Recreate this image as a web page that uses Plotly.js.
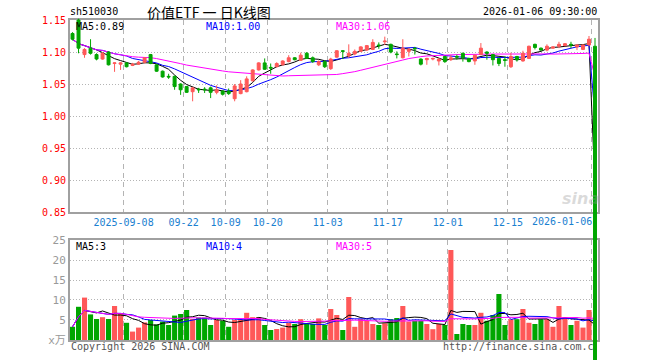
<!DOCTYPE html>
<html><head><meta charset="utf-8">
<script src="https://cdn.plot.ly/plotly-3.0.1.min.js"></script>
<style>html,body{margin:0;padding:0;background:#fff}#chart{width:660px;height:360px}</style>
</head><body><div id="chart"></div>
<script>
// ---- data ----
const dates = ['2025-08-26','2025-08-27','2025-08-28','2025-08-29','2025-09-01','2025-09-02','2025-09-03','2025-09-04','2025-09-05','2025-09-08',
'2025-09-09','2025-09-10','2025-09-11','2025-09-12','2025-09-15','2025-09-16','2025-09-17','2025-09-18','2025-09-19','2025-09-22',
'2025-09-23','2025-09-24','2025-09-25','2025-09-26','2025-09-29','2025-09-30','2025-10-09','2025-10-10','2025-10-13','2025-10-14',
'2025-10-15','2025-10-16','2025-10-17','2025-10-20','2025-10-21','2025-10-22','2025-10-23','2025-10-24','2025-10-27','2025-10-28',
'2025-10-29','2025-10-30','2025-10-31','2025-11-03','2025-11-04','2025-11-05','2025-11-06','2025-11-07','2025-11-10','2025-11-11',
'2025-11-12','2025-11-13','2025-11-14','2025-11-17','2025-11-18','2025-11-19','2025-11-20','2025-11-21','2025-11-24','2025-11-25',
'2025-11-26','2025-11-27','2025-11-28','2025-12-01','2025-12-02','2025-12-03','2025-12-04','2025-12-05','2025-12-08','2025-12-09',
'2025-12-10','2025-12-11','2025-12-12','2025-12-15','2025-12-16','2025-12-17','2025-12-18','2025-12-19','2025-12-22','2025-12-23',
'2025-12-24','2025-12-25','2025-12-26','2025-12-29','2025-12-30','2025-12-31','2026-01-05','2026-01-06'];
const open = [1.129,1.150,1.096,1.106,1.096,1.089,1.100,1.082,1.081,1.083,
1.079,1.081,1.084,1.096,1.080,1.070,1.062,1.062,1.050,1.046,
1.038,1.042,1.042,1.044,1.037,1.039,1.039,1.027,1.035,1.038,
1.055,1.072,1.083,1.076,1.077,1.080,1.085,1.091,1.087,1.098,
1.091,1.080,1.085,1.074,1.092,1.102,1.094,1.097,1.101,1.103,
1.104,1.111,1.116,1.112,1.097,1.091,1.101,1.106,1.089,1.088,
1.089,1.086,1.093,1.088,1.093,1.098,1.090,1.086,1.096,1.100,
1.096,1.090,1.088,1.077,1.093,1.086,1.090,1.112,1.106,1.103,
1.106,1.109,1.110,1.112,1.108,1.104,1.111,1.109];
const high = [1.131,1.152,1.106,1.120,1.098,1.100,1.101,1.084,1.084,1.084,
1.083,1.086,1.092,1.097,1.081,1.071,1.066,1.063,1.051,1.047,
1.045,1.044,1.045,1.046,1.048,1.040,1.043,1.050,1.056,1.062,
1.073,1.084,1.090,1.082,1.084,1.087,1.095,1.092,1.099,1.100,
1.093,1.087,1.087,1.091,1.103,1.103,1.112,1.104,1.109,1.111,
1.120,1.115,1.124,1.113,1.101,1.120,1.106,1.108,1.090,1.091,
1.091,1.090,1.094,1.095,1.096,1.099,1.091,1.096,1.114,1.101,
1.097,1.091,1.093,1.099,1.094,1.102,1.110,1.113,1.107,1.112,
1.109,1.116,1.114,1.116,1.112,1.112,1.125,1.122];
const low = [1.118,1.098,1.091,1.096,1.087,1.088,1.079,1.069,1.072,1.076,
1.078,1.080,1.082,1.081,1.069,1.060,1.058,1.041,1.033,1.036,
1.023,1.036,1.036,1.028,1.034,1.032,1.033,1.023,1.034,1.037,
1.054,1.071,1.072,1.066,1.076,1.079,1.084,1.087,1.086,1.089,
1.083,1.078,1.075,1.072,1.091,1.089,1.091,1.095,1.100,1.102,
1.103,1.105,1.111,1.098,1.090,1.090,1.093,1.096,1.079,1.080,
1.087,1.079,1.083,1.086,1.088,1.085,1.084,1.080,1.095,1.088,
1.079,1.078,1.077,1.075,1.085,1.085,1.089,1.104,1.102,1.101,
1.105,1.106,1.109,1.106,1.103,1.103,1.110,0];
const close = [1.120,1.106,1.104,1.098,1.089,1.098,1.080,1.083,1.083,1.077,
1.081,1.084,1.091,1.082,1.070,1.061,1.061,1.046,1.041,1.037,
1.044,1.041,1.041,1.037,1.041,1.034,1.035,1.047,1.050,1.058,
1.072,1.083,1.073,1.075,1.082,1.086,1.091,1.088,1.095,1.090,
1.085,1.085,1.077,1.089,1.102,1.101,1.098,1.101,1.108,1.110,
1.115,1.110,1.117,1.100,1.096,1.106,1.104,1.105,1.081,1.090,
1.090,1.089,1.085,1.091,1.092,1.091,1.085,1.095,1.106,1.098,
1.088,1.082,1.087,1.093,1.088,1.098,1.109,1.107,1.103,1.109,
1.108,1.112,1.113,1.111,1.111,1.111,1.120,0];
const volume = [3.3,8.3,10.6,6.4,5.25,5.7,5.25,8.5,6.5,4.3,
2.1,3.1,4.4,5.0,3.9,4.6,3.75,6.1,6.5,7.5,
5.25,5.6,5.6,3.75,5.0,4.8,3.3,5.0,5.0,6.8,
5.7,5.7,3.75,2.5,2.75,3.1,4.3,4.0,5.2,4.0,
4.0,5.4,3.75,7.75,6.25,2.5,10.75,3.3,5.2,4.8,
4.0,3.75,4.2,5.2,5.5,8.5,4.6,4.8,4.8,4.0,
2.7,4.0,3.75,22.5,1.5,4.0,3.75,3.75,6.8,4.8,
6.25,11.5,3.75,5.2,5.2,7.75,4.3,4.0,5.2,5.2,
3.3,8.5,5.7,3.75,4.8,3.1,7.5,0];
const tickDates = ['2025-09-08','2025-09-22','2025-10-09','2025-10-20','2025-11-03','2025-11-17','2025-12-01','2025-12-15','2026-01-06'];
const tickText  = ['2025-09-08','09-22','10-09','10-20','11-03','11-17','12-01','12-15','2026-01-06'];
const priceTicks = [0.85,0.90,0.95,1.00,1.05,1.10,1.15];
const volTicks = [0,5,10,15,20,25];
const volTickText = ['x万','5','10','15','20','25'];
const maPeriods = [5,10,30];
const priceMaLabels = ['MA5:0.89','MA10:1.00','MA30:1.06'];
const volMaLabels = ['MA5:3','MA10:4','MA30:5'];
const stockCode = 'sh510030';
const chartTitle = '价值ETF 一 日K线图';
const stamp = '2026-01-06 09:30:00';
const copyrightText = 'Copyright 2026 SINA.COM';
const siteText = 'http://finance.sina.com.c';

// ---- styles ----
const RED = '#ff5858', GREEN = '#00a600';
const MA_COLORS = ['#000000','#0000ff','#ff00ff'];
const GRID = '#b4b4b4', FRAME = '#a0a0a0';
const MONO = 'DejaVu Sans Mono, Noto Sans CJK SC, monospace';
const X_RANGE = [-0.42, 87.5];
const P_DOM = [0.4111, 0.9444], V_DOM = [0.0556, 0.3333];
const P_RANGE = [0.85, 1.15];
const k = (P_RANGE[1]-P_RANGE[0])/(P_DOM[1]-P_DOM[0]);
const Y3_RANGE = [P_RANGE[0]-P_DOM[0]*k, P_RANGE[1]+(1-P_DOM[1])*k];

const idx = dates.map((d,i)=>i);
function ma(arr,n){return arr.map((v,i)=>{const s=Math.max(0,i-n+1);let t=0;for(let j=s;j<=i;j++)t+=arr[j];return t/(i-s+1);});}
const isUp = close.map((c,i)=>c>=open[i]);
const tickPos = tickDates.map(d=>dates.indexOf(d)-0.5);
const tickLbl = tickText.map((t,i)=>i===tickText.length-1?'':t);

const traces = [];
traces.push({type:'bar',x:idx,y:volume,xaxis:'x2',yaxis:'y2',
  marker:{color:isUp.map(u=>u?RED:GREEN),line:{width:0}},hoverinfo:'skip',showlegend:false});
maPeriods.forEach((n,j)=>{
  traces.push({type:'scatter',mode:'lines',x:idx,y:ma(close,n),xaxis:'x',yaxis:'y',
    line:{color:MA_COLORS[j],width:1},hoverinfo:'skip',showlegend:false});
});
maPeriods.forEach((n,j)=>{
  traces.push({type:'scatter',mode:'lines',x:idx,y:ma(volume,n),xaxis:'x2',yaxis:'y2',
    line:{color:MA_COLORS[j],width:1},hoverinfo:'skip',showlegend:false});
});
traces.push({type:'candlestick',x:idx,open:open,high:high,low:low,close:close,xaxis:'x3',yaxis:'y3',
  increasing:{line:{color:RED,width:1},fillcolor:RED},
  decreasing:{line:{color:GREEN,width:1},fillcolor:GREEN},
  hoverinfo:'skip',showlegend:false});

const W = 528, H = 360, L = 70;
const px = x => (x-L)/W, py = y => 1-y/H;
const ann = [];
ann.push({text:stockCode,xref:'paper',yref:'paper',x:px(68),y:py(12),xanchor:'left',yanchor:'middle',showarrow:false,font:{family:MONO,size:10,color:'#000'}});
ann.push({text:chartTitle,xref:'paper',yref:'paper',x:px(209),y:py(12),xanchor:'center',yanchor:'middle',showarrow:false,font:{family:'Noto Sans CJK SC',size:14,color:'#000'}});
ann.push({text:stamp,xref:'paper',yref:'paper',x:px(599),y:py(12),xanchor:'right',yanchor:'middle',showarrow:false,font:{family:MONO,size:10,color:'#000'}});
const labX = [74,204,334];
priceMaLabels.forEach((t,j)=>ann.push({text:t,xref:'paper',yref:'paper',x:px(labX[j]),y:py(27),xanchor:'left',yanchor:'middle',showarrow:false,font:{family:MONO,size:10,color:MA_COLORS[j]}}));
volMaLabels.forEach((t,j)=>ann.push({text:t,xref:'paper',yref:'paper',x:px(labX[j]),y:py(246.5),xanchor:'left',yanchor:'middle',showarrow:false,font:{family:MONO,size:10,color:MA_COLORS[j]}}));
ann.push({text:copyrightText,xref:'paper',yref:'paper',x:px(69),y:py(346.5),xanchor:'left',yanchor:'middle',showarrow:false,font:{family:MONO,size:10,color:'#555'}});
ann.push({text:siteText,xref:'paper',yref:'paper',x:px(441),y:py(346.5),xanchor:'left',yanchor:'middle',showarrow:false,font:{family:MONO,size:10,color:'#555'}});
ann.push({text:'<i><b>sina</b></i>',xref:'paper',yref:'paper',x:px(580),y:py(198),xanchor:'center',yanchor:'middle',showarrow:false,font:{family:'DejaVu Sans',size:16,color:'rgba(150,150,150,0.35)'}});
ann.push({text:tickText[tickText.length-1],xref:'x',yref:'paper',x:tickPos[tickPos.length-1]+0.3,y:P_DOM[0],xanchor:'right',yanchor:'top',yshift:-2,showarrow:false,font:{family:MONO,size:10,color:'#1a80d0'}});

const common = {showgrid:true,gridcolor:GRID,showline:true,linecolor:FRAME,linewidth:2,mirror:true,zeroline:false,ticks:'',fixedrange:true};
const layout = {
  width:660,height:360,margin:{l:L,r:660-L-W,t:0,b:0,pad:0},
  paper_bgcolor:'#ffffff',plot_bgcolor:'rgba(0,0,0,0)',showlegend:false,
  font:{family:MONO,size:10,color:'#000'},
  boxgap:0.3,bargap:0.15,
  xaxis:Object.assign({},common,{domain:[0,1],anchor:'y',range:X_RANGE,tickmode:'array',tickvals:tickPos,ticktext:tickLbl,griddash:'5px,4px',tickfont:{family:MONO,size:10,color:'#1a80d0'},rangeslider:{visible:false}}),
  yaxis:Object.assign({},common,{domain:P_DOM,anchor:'x',range:P_RANGE,tickmode:'array',tickvals:priceTicks,tickformat:'.2f',griddash:'1px,2px',tickfont:{family:MONO,size:10,color:'#ff0000'}}),
  xaxis2:Object.assign({},common,{domain:[0,1],anchor:'y2',range:X_RANGE,tickmode:'array',tickvals:tickPos,showticklabels:false,griddash:'5px,4px'}),
  yaxis2:Object.assign({},common,{domain:V_DOM,anchor:'x2',range:[0,25],tickmode:'array',tickvals:volTicks,ticktext:volTickText,griddash:'1px,2px',tickfont:{family:MONO,size:11,color:'#999'}}),
  xaxis3:{domain:[0,1],anchor:'y3',range:X_RANGE,visible:false,fixedrange:true,rangeslider:{visible:false}},
  yaxis3:{domain:[0,1],anchor:'x3',range:Y3_RANGE,visible:false,fixedrange:true},
  annotations:ann
};
Plotly.newPlot('chart',traces,layout,{displayModeBar:false,staticPlot:true});
</script></body></html>
